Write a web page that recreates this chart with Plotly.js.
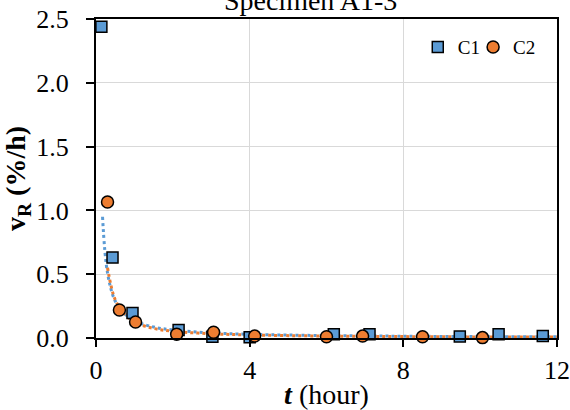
<!DOCTYPE html>
<html>
<head>
<meta charset="utf-8">
<script src="https://cdn.plot.ly/plotly-3.0.1.min.js"></script>
<style>html,body{margin:0;padding:0;background:#fff;}#chart{width:570px;height:410px;}</style>
</head>
<body>
<div id="chart"></div>
<script>
// Measured data (hours, %/h)
const c1Time = [0.14, 0.43, 0.95, 2.15, 3.03, 4.0, 6.19, 7.12, 9.47, 10.48, 11.63];
const c1Rate = [2.44, 0.63, 0.196, 0.063, 0.01, 0.005, 0.03, 0.03, 0.012, 0.03, 0.015];
const c2Time = [0.3, 0.61, 1.03, 2.1, 3.06, 4.13, 6.0, 6.94, 8.5, 10.06];
const c2Rate = [1.066, 0.22, 0.125, 0.03, 0.045, 0.015, 0.01, 0.015, 0.01, 0.003];
// Trend curves
const trend1Time = [0.17, 0.3, 0.5, 0.75, 1, 1.5, 2, 3, 4, 6, 8, 10, 12];
const trend1Rate = [0.95, 0.51, 0.29, 0.19, 0.135, 0.086, 0.063, 0.040, 0.029, 0.019, 0.014, 0.011, 0.009];
const trend2Time = [0.3, 0.5, 0.75, 1, 1.5, 2, 3, 4, 6, 8, 10, 12];
const trend2Rate = [0.55, 0.30, 0.185, 0.125, 0.075, 0.053, 0.033, 0.024, 0.015, 0.011, 0.008, 0.007];
const xTicks = [0, 4, 8, 12];
const yTicks = [0, 0.5, 1.0, 1.5, 2.0, 2.5];

const blue = '#5B9BD5', orange = '#ED7D31';
const font = 'Liberation Serif';

const traces = [
  {x: trend1Time, y: trend1Rate, mode: 'lines', line: {color: blue, dash: 'dot', width: 3, shape: 'spline'}, showlegend: false, hoverinfo: 'skip'},
  {x: trend2Time, y: trend2Rate, mode: 'lines', line: {color: orange, dash: 'dot', width: 3, shape: 'spline'}, showlegend: false, hoverinfo: 'skip'},
  {x: c1Time, y: c1Rate, mode: 'markers', name: 'C1', cliponaxis: false, legend: 'legend',
   marker: {symbol: 'square', size: 11, color: blue, line: {color: '#000', width: 1.5}}},
  {x: c2Time, y: c2Rate, mode: 'markers', name: 'C2', cliponaxis: false, legend: 'legend2',
   marker: {symbol: 'circle', size: 12, color: orange, line: {color: '#000', width: 1.5}}}
];

const legendBase = {font: {family: font, size: 19}, bgcolor: 'rgba(0,0,0,0)', itemwidth: 30,
                    xanchor: 'left', yanchor: 'middle', y: 0.912};

const layout = {
  width: 570, height: 410,
  margin: {l: 96, r: 13, t: 19, b: 72},
  paper_bgcolor: '#fff', plot_bgcolor: '#fff',
  font: {family: font, color: '#000', size: 20},
  title: {text: 'Specimen A1-3', font: {family: font, size: 28, color: '#000'},
          x: 0.545, xanchor: 'center', yref: 'container', y: 0.975, yanchor: 'bottom'},
  xaxis: {range: [0, 12], tickvals: xTicks, ticktext: xTicks.map(String),
          showline: true, linecolor: '#000', linewidth: 2, mirror: true,
          ticks: 'outside', ticklen: 7, tickwidth: 2, tickcolor: '#000', ticklabelstandoff: 1,
          showgrid: true, gridcolor: '#d9d9d9', gridwidth: 1, zeroline: false,
          tickfont: {family: font, size: 26},
          title: {text: '<b><i>t</i></b> (hour)', font: {family: font, size: 28}, standoff: 0}},
  yaxis: {range: [0, 2.5], tickvals: yTicks, ticktext: yTicks.map(v => v.toFixed(1)),
          showline: true, linecolor: '#000', linewidth: 2, mirror: true,
          ticks: 'outside', ticklen: 8, tickwidth: 2, tickcolor: '#000', ticklabelstandoff: 12,
          showgrid: true, gridcolor: '#d9d9d9', gridwidth: 1, zeroline: false,
          tickfont: {family: font, size: 26},
          title: {text: '<b>v<sub>R</sub> (%/h)</b>', font: {family: font, size: 28}, standoff: 8}},
  legend: Object.assign({}, legendBase, {x: 0.698}),
  legend2: Object.assign({}, legendBase, {x: 0.818}),
  showlegend: true
};

Plotly.newPlot('chart', traces, layout, {staticPlot: true, displayModeBar: false});
</script>
</body>
</html>
